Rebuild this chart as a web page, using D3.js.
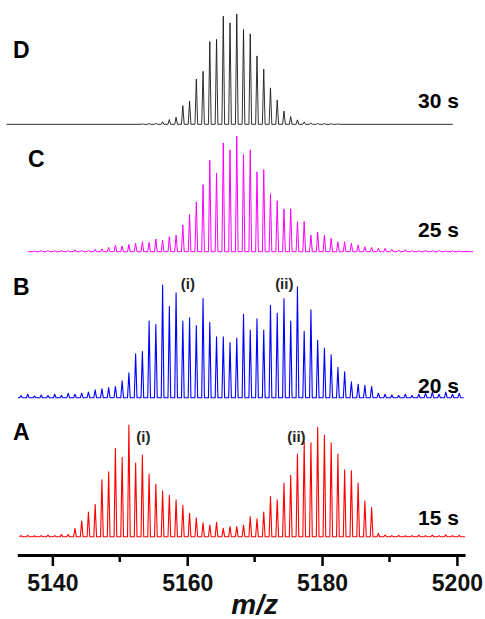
<!DOCTYPE html>
<html>
<head>
<meta charset="utf-8">
<script src="https://cdnjs.cloudflare.com/ajax/libs/d3/7.8.5/d3.min.js"></script>
<style>
  body { margin: 0; background: #fff; }
  svg text { font-family: "Liberation Sans", Arial, sans-serif; font-weight: bold; }
</style>
</head>
<body>
<div id="chart"></div>
<script>
// m/z window of the x axis and its ticks
const mzDomain = [5134.8, 5201.2];
const majorTicks = [5140, 5160, 5180, 5200];
const minorTicks = [5150, 5170, 5190];

// scan range of each spectrum [start, end] (m/z)
const rangeA = [5135.2, 5201.2];
const rangeB = [5134.9, 5201.0];
const rangeC = [5136.4, 5202.4];
const rangeD = [5133.2, 5199.4];

// peaks [m/z, relative intensity %]
const peaksA = [
  [5135.35, 1], [5136.35, 1.2], [5137.35, 0.8], [5138.35, 1], [5139.35, 1.3], [5140.35, 1], [5141.35, 2],
  [5142.35, 2], [5143.35, 7.5], [5144.35, 14], [5145.35, 22], [5146.35, 29], [5147.35, 51], [5148.35, 58],
  [5149.35, 79], [5150.35, 71], [5151.35, 100], [5152.35, 66], [5153.35, 73], [5154.35, 56], [5155.35, 47],
  [5156.35, 41], [5157.35, 37], [5158.35, 33], [5159.35, 28], [5160.35, 21], [5161.35, 17], [5162.35, 12.5],
  [5163.35, 10.4], [5164.35, 13], [5165.35, 7.5], [5166.35, 9], [5167.35, 9], [5168.35, 10.4], [5169.35, 18],
  [5170.35, 16], [5171.35, 22], [5172.35, 36], [5173.35, 33], [5174.35, 48], [5175.35, 55], [5176.35, 74],
  [5177.35, 85], [5178.35, 84], [5179.35, 98], [5180.35, 91], [5181.35, 84], [5182.35, 74], [5183.35, 60],
  [5184.35, 59], [5185.35, 48], [5186.35, 32], [5187.35, 26], [5188.35, 3], [5189.35, 1.5], [5190.35, 1],
  [5191.35, 1.2], [5192.35, 0.8], [5193.35, 1], [5194.35, 1.3], [5195.35, 1], [5196.35, 1.5], [5197.35, 1],
  [5198.35, 1.8], [5199.35, 1], [5200.35, 1.2]
];
const peaksB = [
  [5135.35, 2], [5136.35, 3], [5137.35, 1.5], [5138.35, 2.5], [5139.35, 2], [5140.35, 3], [5141.35, 2],
  [5142.35, 4], [5143.35, 3], [5144.35, 4], [5145.35, 5], [5146.35, 7], [5147.35, 8], [5148.35, 9],
  [5149.35, 10], [5150.35, 15], [5151.35, 22], [5152.35, 39], [5153.35, 41], [5154.35, 68], [5155.35, 65],
  [5156.35, 100], [5157.35, 81], [5158.35, 93], [5159.35, 68], [5160.35, 71], [5161.35, 64], [5162.35, 88],
  [5163.35, 67], [5164.35, 54], [5165.35, 54], [5166.35, 49], [5167.35, 53], [5168.35, 74], [5169.35, 60],
  [5170.35, 70], [5171.35, 60], [5172.35, 82], [5173.35, 75], [5174.35, 88], [5175.35, 68], [5176.35, 98.5],
  [5177.35, 59], [5178.35, 78], [5179.35, 51], [5180.35, 44], [5181.35, 38], [5182.35, 27], [5183.35, 23],
  [5184.35, 14], [5185.35, 12], [5186.35, 11], [5187.35, 10], [5188.35, 4], [5189.35, 3], [5190.35, 2.5],
  [5191.35, 2], [5192.35, 3], [5193.35, 2], [5194.35, 3], [5195.35, 4], [5196.35, 5], [5197.35, 3],
  [5198.35, 5], [5199.35, 3], [5200.35, 4]
];
const peaksC = [
  [5137.35, 0.8], [5138.35, 1], [5139.35, 1.2], [5140.35, 1], [5141.35, 1.5], [5142.35, 1.2], [5143.35, 1.8],
  [5144.35, 1.4], [5145.35, 1.2], [5146.35, 2], [5147.35, 2.5], [5148.35, 3.7], [5149.35, 5.8], [5150.35, 4.9],
  [5151.35, 6.3], [5152.35, 7.2], [5153.35, 8.6], [5154.35, 8.1], [5155.35, 11], [5156.35, 10], [5157.35, 13],
  [5158.35, 14.4], [5159.35, 23], [5160.35, 32], [5161.35, 43], [5162.35, 58], [5163.35, 79], [5164.35, 68],
  [5165.35, 94], [5166.35, 88], [5167.35, 100], [5168.35, 84], [5169.35, 88], [5170.35, 69], [5171.35, 71],
  [5172.35, 50], [5173.35, 44], [5174.35, 37], [5175.35, 37], [5176.35, 26], [5177.35, 26], [5178.35, 14.4],
  [5179.35, 17], [5180.35, 14.4], [5181.35, 11.5], [5182.35, 8.6], [5183.35, 8.6], [5184.35, 7.2], [5185.35, 5.8],
  [5186.35, 4.3], [5187.35, 3.7], [5188.35, 2.9], [5189.35, 2.9], [5190.35, 2], [5191.35, 1.5], [5192.35, 1.8],
  [5193.35, 1.2], [5194.35, 1], [5195.35, 1.4], [5196.35, 0.8], [5197.35, 1.2], [5198.35, 0.8], [5199.35, 1],
  [5200.35, 0.7]
];
const peaksD = [
  [5153.35, 0.4], [5154.35, 0.7], [5155.35, 1], [5156.35, 2.3], [5157.35, 4.3], [5158.35, 6.5], [5159.35, 17],
  [5160.35, 21], [5161.35, 41], [5162.35, 48], [5163.35, 75], [5164.35, 77], [5165.35, 98], [5166.35, 92],
  [5167.35, 100], [5168.35, 86], [5169.35, 82], [5170.35, 62], [5171.35, 50], [5172.35, 33], [5173.35, 22],
  [5174.35, 12], [5175.35, 7], [5176.35, 4], [5177.35, 2.2], [5178.35, 1.2], [5179.35, 0.9], [5180.35, 0.7],
  [5181.35, 0.5], [5182.35, 0.4]
];

// panel letters, reaction times and peak-group labels
const panelLetters = ["A", "B", "C", "D"];
const panelTimes = ["15 s", "20 s", "25 s", "30 s"];
const groupLabelsA = [["(i)", 5153.5], ["(ii)", 5176.2]];
const groupLabelsB = [["(i)", 5160.1], ["(ii)", 5174.4]];

const width = 485, height = 619;

const svg = d3.select("#chart")
  .append("svg")
  .attr("width", width)
  .attr("height", height);

const x = d3.scaleLinear().domain(mzDomain).range([17.3, 465]);

// layout of the stacked spectra
const panels = [
  {peaks: peaksA, range: rangeA, color: "#ff0000", base: 536.7, top: 425, lw: 1.1,
   letter: panelLetters[0], time: panelTimes[0], lx: 13, ly: 440, ty: 525, groups: groupLabelsA, gy: 442},
  {peaks: peaksB, range: rangeB, color: "#0000ff", base: 397.7, top: 285, lw: 1.1,
   letter: panelLetters[1], time: panelTimes[1], lx: 13, ly: 295, ty: 393, groups: groupLabelsB, gy: 289},
  {peaks: peaksC, range: rangeC, color: "#ff00ff", base: 251.7, top: 136, lw: 1.0,
   letter: panelLetters[2], time: panelTimes[2], lx: 28, ly: 167, ty: 237, groups: [], gy: 0},
  {peaks: peaksD, range: rangeD, color: "#1a1a1a", base: 124.3, top: 14, lw: 0.9,
   letter: panelLetters[3], time: panelTimes[3], lx: 13, ly: 58, ty: 108, groups: [], gy: 0}
];

const halfWidth = 0.2; // peak half-width at the foot, in m/z

panels.forEach(p => {
  const y = d3.scaleLinear().domain([0, 100]).range([p.base, p.top]);

  // each peak drawn as a narrow spike on the baseline
  const pts = [[p.range[0], 0]];
  p.peaks.forEach(d => {
    pts.push([d[0] - halfWidth, 0], [d[0], d[1]], [d[0] + halfWidth, 0]);
  });
  pts.push([p.range[1], 0]);

  const line = d3.line()
    .x(d => x(d[0]))
    .y(d => y(d[1]));

  svg.append("path")
    .datum(pts)
    .attr("d", line)
    .attr("fill", "none")
    .attr("stroke", p.color)
    .attr("stroke-width", p.lw)
    .attr("stroke-linejoin", "round");

  svg.append("text")
    .attr("x", p.lx)
    .attr("y", p.ly)
    .style("font-size", "23px")
    .text(p.letter);

  svg.append("text")
    .attr("x", 418)
    .attr("y", p.ty)
    .style("font-size", "21px")
    .text(p.time);

  svg.selectAll(null)
    .data(p.groups)
    .enter().append("text")
    .attr("x", d => x(d[1]))
    .attr("y", p.gy)
    .attr("text-anchor", "middle")
    .style("font-size", "15px")
    .attr("fill", "#222")
    .text(d => d[0]);
});

// x axis
const axisY = 555;
const gAxis = svg.append("g")
  .attr("transform", "translate(0," + axisY + ")")
  .call(d3.axisBottom(x).tickValues(majorTicks).tickSize(11).tickSizeOuter(0).tickPadding(9)
    .tickFormat(d3.format("d")));

gAxis.select(".domain").attr("stroke-width", 3);
gAxis.selectAll(".tick line").attr("stroke-width", 2.5);
gAxis.selectAll(".tick text")
  .style("font-size", "23px")
  .style("font-family", "'Liberation Sans', Arial, sans-serif")
  .style("font-weight", "bold")
  .attr("fill", "#111");

svg.append("g")
  .selectAll("line")
  .data(minorTicks)
  .enter().append("line")
  .attr("x1", d => x(d))
  .attr("x2", d => x(d))
  .attr("y1", axisY)
  .attr("y2", axisY + 7)
  .attr("stroke", "#000")
  .attr("stroke-width", 2.5);

svg.append("text")
  .attr("x", x(5170))
  .attr("y", 614)
  .attr("text-anchor", "middle")
  .style("font-size", "28px")
  .style("font-style", "italic")
  .attr("fill", "#111")
  .text("m/z");
</script>
</body>
</html>
